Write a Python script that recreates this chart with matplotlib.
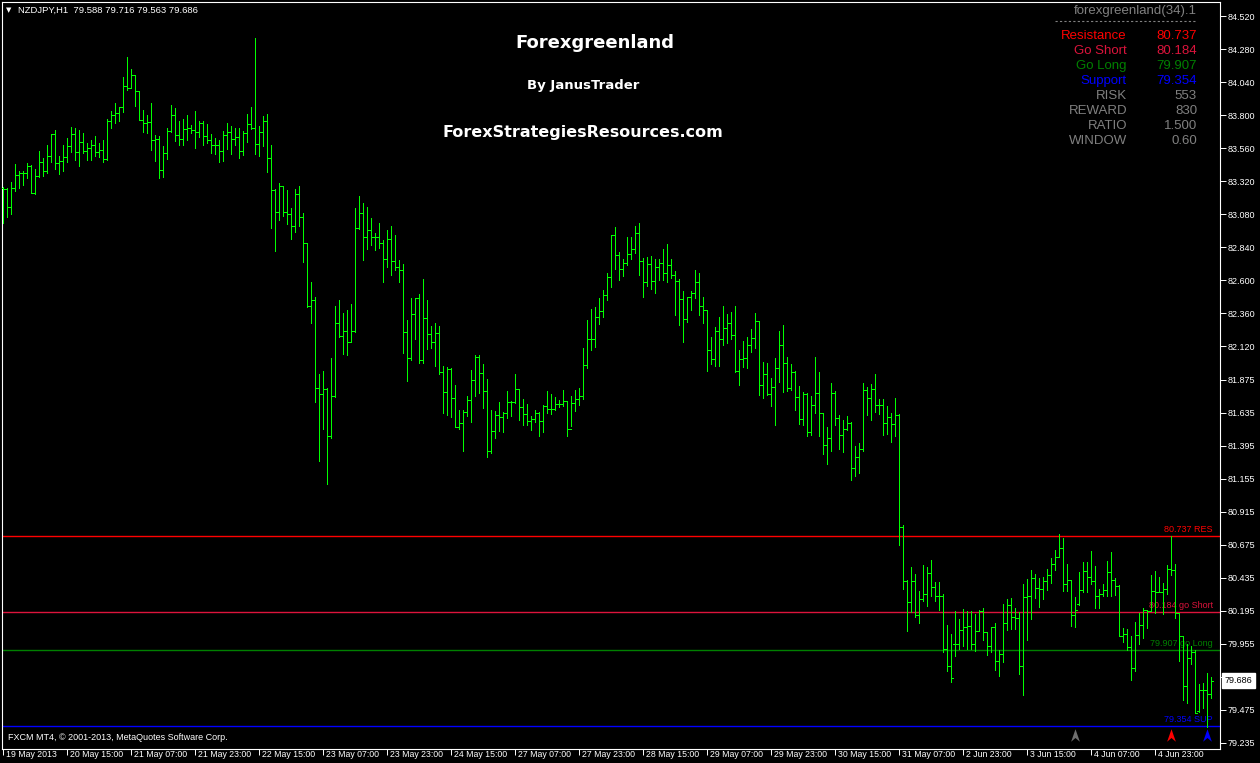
import numpy as np
import matplotlib.pyplot as plt
from matplotlib.path import Path
from matplotlib.transforms import ScaledTranslation

# NZDJPY H1 bars, oldest first
highs = [
    83.278, 83.269, 83.312, 83.443, 83.392, 83.392, 83.450, 83.436, 83.407, 83.538,
    83.487, 83.581, 83.659, 83.691, 83.501, 83.581, 83.632, 83.710, 83.705, 83.688,
    83.666, 83.596, 83.618, 83.644, 83.596, 83.618, 83.768, 83.829, 83.887, 83.858,
    84.076, 84.221, 84.132, 84.093, 83.972, 83.834, 83.797, 83.884, 83.654, 83.644,
    83.574, 83.703, 83.870, 83.848, 83.754, 83.768, 83.797, 83.724, 83.829, 83.756,
    83.756,
    83.734, 83.662, 83.633, 83.618, 83.684, 83.742, 83.720, 83.705, 83.705, 83.684,
    83.810, 83.858, 84.360, 83.720, 83.793, 83.807, 83.582, 83.262, 83.305, 83.284,
    83.254, 83.124, 83.262, 83.284, 83.087, 82.867, 82.585, 82.476, 81.916, 81.938,
    81.812, 82.033, 82.411, 82.455, 82.360, 82.382, 82.425, 83.124, 83.211, 83.160,
    83.131, 83.051, 82.939, 83.015, 82.888, 82.964, 82.993, 82.927, 82.748, 82.719,
    82.309, 82.469, 82.469, 82.498, 82.608, 82.455, 82.266, 82.288, 82.266, 81.975,
    81.968, 81.960, 81.837, 81.655, 81.655, 81.757, 81.946, 82.055, 82.055, 81.989,
    81.880, 81.655, 81.648, 81.713, 81.640, 81.793, 81.720, 81.917, 81.805, 81.735,
    81.696, 81.614, 81.655, 81.640, 81.691, 81.793, 81.771, 81.749, 81.728, 81.800,
    81.720, 81.757, 81.800, 81.815, 82.106, 82.309, 82.389, 82.404, 82.469, 82.528,
    82.651, 82.927, 82.985, 82.804, 82.753, 82.913, 82.913, 82.993, 83.014, 82.758,
    82.767, 82.774, 82.750, 82.750, 82.825, 82.862, 82.750, 82.665, 82.605, 82.520,
    82.479, 82.522, 82.673, 82.651, 82.474, 82.382, 82.188, 82.261, 82.331, 82.411,
    82.353, 82.367, 82.411, 82.091, 82.156, 82.188, 82.244, 82.360, 82.302, 82.004,
    81.996, 81.890, 82.033, 82.229, 82.273, 82.042, 81.989, 81.936, 81.829, 81.788,
    81.778, 81.756, 82.042, 81.931, 81.633, 81.531, 81.851, 81.793, 81.618, 81.582,
    81.611, 81.567, 81.393, 81.414, 81.851, 81.822, 81.843, 81.916, 81.734, 81.734,
    81.683, 81.633, 81.742, 81.625, 80.818, 80.421, 80.513, 80.462, 80.338, 80.527,
    80.513, 80.564, 80.404, 80.404, 80.314, 80.091, 80.023, 80.193, 80.135, 80.207,
    80.193, 80.193, 80.171, 80.200, 80.215, 80.038, 80.076, 80.105, 79.909, 80.244,
    80.280, 80.288, 80.213, 80.184, 80.390, 80.426, 80.491, 80.462, 80.433, 80.440,
    80.499, 80.579, 80.637, 80.753, 80.724, 80.535, 80.419, 80.295, 80.477, 80.550,
    80.550, 80.630, 80.520, 80.353, 80.390, 80.557, 80.622, 80.433, 80.382, 80.067,
    80.062, 80.009, 80.113, 80.179, 80.215, 80.200, 80.455, 80.484, 80.440, 80.397,
    80.528, 80.739, 80.535, 80.176, 80.009, 79.953, 79.939, 79.907, 79.665, 79.672,
    79.740, 79.716,
]

lows = [
    83.017, 83.060, 83.082, 83.249, 83.271, 83.293, 83.339, 83.230, 83.223, 83.346,
    83.358, 83.375, 83.458, 83.409, 83.373, 83.390, 83.460, 83.531, 83.472, 83.431,
    83.521, 83.472, 83.472, 83.499, 83.494, 83.458, 83.470, 83.707, 83.739, 83.756,
    83.819, 83.984, 83.993, 83.867, 83.761, 83.678, 83.669, 83.548, 83.468, 83.339,
    83.346, 83.480, 83.674, 83.611, 83.584, 83.581, 83.618, 83.666, 83.562, 83.642,
    83.581,
    83.594, 83.526, 83.519, 83.461, 83.468, 83.555, 83.519, 83.584, 83.490, 83.511,
    83.606, 83.700, 83.519, 83.504, 83.577, 83.388, 82.981, 82.813, 83.039, 83.068,
    83.010, 82.901, 82.951, 82.995, 82.733, 82.401, 82.290, 81.715, 81.286, 81.519,
    81.119, 81.449, 81.747, 82.186, 82.064, 82.057, 82.147, 82.219, 82.968, 82.748,
    82.828, 82.857, 82.821, 82.835, 82.588, 82.697, 82.639, 82.675, 82.588, 82.072,
    81.868, 82.021, 82.174, 81.999, 81.999, 82.101, 82.108, 81.977, 81.919, 81.635,
    81.621, 81.606, 81.534, 81.519, 81.359, 81.614, 81.570, 81.759, 81.781, 81.672,
    81.316, 81.345, 81.454, 81.505, 81.497, 81.599, 81.614, 81.703, 81.585, 81.548,
    81.543, 81.512, 81.570, 81.468, 81.497, 81.635, 81.628, 81.657, 81.679, 81.686,
    81.468, 81.541, 81.650, 81.694, 81.737, 81.963, 82.094, 82.115, 82.283, 82.334,
    82.457, 82.551, 82.682, 82.602, 82.631, 82.707, 82.755, 82.799, 82.639, 82.479,
    82.559, 82.535, 82.508, 82.600, 82.600, 82.588, 82.612, 82.348, 82.275, 82.152,
    82.297, 82.379, 82.471, 82.348, 82.290, 81.941, 81.992, 81.977, 81.977, 82.130,
    82.144, 82.171, 81.933, 81.839, 81.970, 81.962, 82.079, 82.108, 81.766, 81.744,
    81.766, 81.686, 81.548, 81.861, 81.788, 81.795, 81.800, 81.657, 81.555, 81.546,
    81.468, 81.475, 81.630, 81.468, 81.337, 81.264, 81.359, 81.548, 81.373, 81.351,
    81.511, 81.148, 81.177, 81.199, 81.359, 81.620, 81.584, 81.637, 81.628, 81.475,
    81.482, 81.424, 81.468, 80.675, 80.355, 80.050, 80.188, 80.147, 80.108, 80.268,
    80.231, 80.299, 80.263, 80.198, 79.897, 79.759, 79.679, 79.868, 79.919, 79.936,
    79.914, 79.919, 79.904, 80.045, 79.982, 79.875, 79.897, 79.766, 79.723, 79.819,
    80.053, 80.060, 80.060, 79.738, 79.585, 79.985, 80.133, 80.285, 80.220, 80.278,
    80.346, 80.397, 80.489, 80.586, 80.341, 80.336, 80.082, 80.079, 80.239, 80.334,
    80.334, 80.387, 80.215, 80.215, 80.302, 80.300, 80.300, 80.310, 80.009, 79.970,
    79.907, 79.694, 79.759, 79.951, 79.997, 80.067, 80.191, 80.179, 80.331, 80.171,
    80.317, 80.453, 80.145, 79.830, 79.548, 79.522, 79.805, 79.451, 79.461, 79.490,
    79.347, 79.563,
]

opens = [
    83.266,
    83.261, 83.128, 83.266, 83.361, 83.375, 83.375, 83.429, 83.230, 83.358, 83.455,
    83.395, 83.499, 83.659, 83.448, 83.463, 83.497, 83.572, 83.659, 83.528, 83.601,
    83.535, 83.560, 83.579, 83.528, 83.545, 83.477, 83.756, 83.797, 83.814, 83.858,
    84.008, 83.993, 84.090, 83.972, 83.761, 83.741, 83.746, 83.618, 83.623, 83.400,
    83.521, 83.683, 83.802, 83.652, 83.625, 83.695, 83.707, 83.691, 83.676, 83.741,
    83.649, 83.616, 83.579, 83.579, 83.536, 83.652, 83.674, 83.628, 83.638, 83.536,
    83.667, 83.732, 83.703, 83.587, 83.674, 83.754, 83.485, 83.252, 83.092, 83.281,
    83.092, 83.078, 82.990, 83.223, 83.058, 82.867, 82.408, 82.452, 81.812, 81.769,
    81.807, 81.463, 81.754, 82.285, 82.190, 82.227, 82.147, 82.227, 82.976, 83.085,
    82.910, 82.961, 82.910, 82.910, 82.867, 82.750, 82.896, 82.736, 82.697, 82.673,
    82.219, 82.033, 82.355, 82.467, 82.016, 82.321, 82.205, 82.147, 82.212, 81.934,
    81.783, 81.951, 81.740, 81.534, 81.558, 81.638, 81.725, 81.871, 82.038, 81.922,
    81.791, 81.354, 81.500, 81.616, 81.604, 81.633, 81.711, 81.711, 81.805, 81.679,
    81.623, 81.572, 81.587, 81.631, 81.572, 81.682, 81.665, 81.662, 81.696, 81.696,
    81.718, 81.514, 81.703, 81.732, 81.754, 81.980, 82.169, 82.169, 82.329, 82.375,
    82.489, 82.619, 82.927, 82.779, 82.678, 82.721, 82.787, 82.823, 82.942, 82.736,
    82.585, 82.714, 82.590, 82.692, 82.721, 82.648, 82.707, 82.634, 82.590, 82.459,
    82.314, 82.474, 82.503, 82.583, 82.408, 82.382, 82.088, 82.023, 82.227, 82.173,
    82.248, 82.285, 82.198, 81.936, 82.023, 82.030, 82.125, 82.178, 82.302, 81.834,
    81.916, 81.773, 81.819, 81.958, 82.125, 81.994, 81.812, 81.928, 81.747, 81.587,
    81.773, 81.494, 81.691, 81.780, 81.633, 81.397, 81.448, 81.778, 81.594, 81.470,
    81.514, 81.560, 81.230, 81.310, 81.368, 81.800, 81.739, 81.805, 81.691, 81.691,
    81.557, 81.601, 81.550, 81.616, 80.804, 80.413, 80.256, 80.411, 80.161, 80.278,
    80.314, 80.467, 80.365, 80.299, 80.299, 79.914, 79.790, 79.950, 79.950, 80.052,
    80.074, 80.081, 79.950, 80.045, 80.193, 80.038, 79.941, 80.074, 79.827, 79.882,
    80.103, 80.237, 80.147, 80.140, 79.793, 80.295, 80.302, 80.433, 80.358, 80.353,
    80.411, 80.455, 80.535, 80.586, 80.651, 80.390, 80.419, 80.164, 80.240, 80.344,
    80.484, 80.440, 80.409, 80.300, 80.317, 80.346, 80.477, 80.419, 80.375, 80.009,
    80.024, 79.931, 79.779, 80.016, 80.089, 80.198, 80.195, 80.336, 80.331, 80.331,
    80.351, 80.496, 80.489, 80.176, 80.009, 79.650, 79.851, 79.895, 79.462, 79.616,
    79.616, 79.588,
]

closes = [
    83.261, 83.128, 83.266, 83.361, 83.375, 83.375, 83.429, 83.230, 83.358, 83.455,
    83.395, 83.499, 83.659, 83.448, 83.463, 83.497, 83.572, 83.659, 83.528, 83.601,
    83.535, 83.560, 83.579, 83.528, 83.545, 83.477, 83.756, 83.797, 83.814, 83.858,
    84.008, 83.993, 84.090, 83.972, 83.761, 83.741, 83.746, 83.618, 83.623, 83.400,
    83.521, 83.683, 83.802, 83.652, 83.625, 83.695, 83.707, 83.691, 83.676, 83.741,
    83.649,
    83.616, 83.579, 83.579, 83.536, 83.652, 83.674, 83.628, 83.638, 83.536, 83.667,
    83.732, 83.703, 83.587, 83.674, 83.754, 83.485, 83.252, 83.092, 83.281, 83.092,
    83.078, 82.990, 83.223, 83.058, 82.867, 82.408, 82.452, 81.812, 81.769, 81.807,
    81.463, 81.754, 82.285, 82.190, 82.227, 82.147, 82.227, 82.976, 83.085, 82.910,
    82.961, 82.910, 82.910, 82.867, 82.750, 82.896, 82.736, 82.697, 82.673, 82.219,
    82.033, 82.355, 82.467, 82.016, 82.321, 82.205, 82.147, 82.212, 81.934, 81.783,
    81.951, 81.740, 81.534, 81.558, 81.638, 81.725, 81.871, 82.038, 81.922, 81.791,
    81.354, 81.500, 81.616, 81.604, 81.633, 81.711, 81.711, 81.805, 81.679, 81.623,
    81.572, 81.587, 81.631, 81.572, 81.682, 81.665, 81.662, 81.696, 81.696, 81.718,
    81.514, 81.703, 81.732, 81.754, 81.980, 82.169, 82.169, 82.329, 82.375, 82.489,
    82.619, 82.927, 82.779, 82.678, 82.721, 82.787, 82.823, 82.942, 82.736, 82.585,
    82.714, 82.590, 82.692, 82.721, 82.648, 82.707, 82.634, 82.590, 82.459, 82.314,
    82.474, 82.503, 82.583, 82.408, 82.382, 82.088, 82.023, 82.227, 82.173, 82.248,
    82.285, 82.198, 81.936, 82.023, 82.030, 82.125, 82.178, 82.302, 81.834, 81.916,
    81.773, 81.819, 81.958, 82.125, 81.994, 81.812, 81.928, 81.747, 81.587, 81.773,
    81.494, 81.691, 81.780, 81.633, 81.397, 81.448, 81.778, 81.594, 81.470, 81.514,
    81.560, 81.230, 81.310, 81.368, 81.800, 81.739, 81.805, 81.691, 81.691, 81.557,
    81.601, 81.550, 81.616, 80.804, 80.413, 80.256, 80.411, 80.161, 80.278, 80.314,
    80.467, 80.365, 80.299, 80.299, 79.914, 79.790, 79.703, 79.950, 80.052, 80.074,
    80.081, 79.950, 80.045, 80.193, 80.038, 79.941, 80.074, 79.827, 79.882, 80.103,
    80.237, 80.147, 80.140, 79.793, 80.295, 80.302, 80.433, 80.358, 80.353, 80.411,
    80.455, 80.535, 80.586, 80.651, 80.390, 80.419, 80.164, 80.201, 80.344, 80.484,
    80.440, 80.409, 80.300, 80.317, 80.346, 80.477, 80.419, 80.375, 80.009, 80.024,
    79.931, 79.779, 80.016, 80.089, 80.198, 80.195, 80.336, 80.331, 80.331, 80.351,
    80.496, 80.489, 80.176, 80.009, 79.650, 79.851, 79.895, 79.454, 79.616, 79.616,
    79.592, 79.686,
]

# x axis labels every 16 bars
date_labels = ['19 May 2013', '20 May 15:00', '21 May 07:00', '21 May 23:00', '22 May 15:00',
               '23 May 07:00', '23 May 23:00', '24 May 15:00', '27 May 07:00', '27 May 23:00',
               '28 May 15:00', '29 May 07:00', '29 May 23:00', '30 May 15:00', '31 May 07:00',
               '2 Jun 23:00', '3 Jun 15:00', '4 Jun 07:00', '4 Jun 23:00']
price_ticks = [84.520, 84.280, 84.040, 83.800, 83.560, 83.320, 83.080, 82.840, 82.600,
               82.360, 82.120, 81.875, 81.635, 81.395, 81.155, 80.915, 80.675, 80.435,
               80.195, 79.955, 79.715, 79.475, 79.235]

# indicator levels
level_names = ['RES', 'go Short', 'go Long', 'SUP']
level_values = [80.737, 80.184, 79.907, 79.354]
level_colors = ['#ff0000', '#dc143c', '#008000', '#0000ff']

panel_labels = ['Resistance', 'Go Short', 'Go Long', 'Support', 'RISK', 'REWARD', 'RATIO', 'WINDOW']
panel_values = ['80.737', '80.184', '79.907', '79.354', '553', '830', '1.500', '0.60']
panel_colors = ['#ff0000', '#dc143c', '#008000', '#0000ff', '#808080', '#808080', '#808080', '#808080']

arrow_bars = [268, 292, 301]
arrow_price = 79.29
arrow_colors = ['#6e6e6e', '#ff0000', '#0000ff']

last_price = 79.686

W, H = 1260, 763
plt.rcParams['font.family'] = ['Liberation Sans', 'DejaVu Sans']

fig = plt.figure(figsize=(W / 100, H / 100), dpi=100, facecolor='black')
ax = fig.add_axes([2 / W, 1 - 749 / H, 1218 / W, 747 / H], facecolor='black')


def px(x, y):
    return x / W, 1 - y / H


xs = np.arange(len(highs))
bar_color = '#00ff00'
ax.vlines(xs, lows, highs, colors=bar_color, linewidth=0.72, antialiased=False, zorder=3)
ax.hlines(opens, xs - 0.5, xs, colors=bar_color, linewidth=0.72, antialiased=False, zorder=3)
ax.hlines(closes, xs, xs + 0.5, colors=bar_color, linewidth=0.72, antialiased=False, zorder=3)

ax.set_xlim(-0.325, 304.2)
ax.set_ylim(79.189, 84.622)

# support / resistance lines
for name, v, c in zip(level_names, level_values, level_colors):
    ax.axhline(v, color=c, linewidth=1.0, zorder=1)
    ax.annotate(f'{v:.3f} {name}', xy=(302.4, v), xytext=(0, 1.5), textcoords='offset points',
                ha='right', va='bottom', color=c, fontsize=6.5, zorder=2)

# arrows at the bottom
arrow_marker = Path([(0, 1), (0.7, -1), (0, -0.4), (-0.7, -1), (0, 1)],
                    [Path.MOVETO, Path.LINETO, Path.LINETO, Path.LINETO, Path.CLOSEPOLY])
for b, c in zip(arrow_bars, arrow_colors):
    ax.plot([b], [arrow_price], marker=arrow_marker, markersize=9, color=c,
            markeredgewidth=0, linestyle='none', zorder=4)

# axes styling
for s in ax.spines.values():
    s.set_color('white')
    s.set_linewidth(0.8)
ax.yaxis.tick_right()
ax.set_yticks(price_ticks)
ax.set_yticklabels([f'{v:.3f}' for v in price_ticks])
ax.tick_params(axis='y', colors='white', length=4, width=0.7, pad=1.5, labelsize=6.5)
ax.set_xticks(np.arange(len(date_labels)) * 16)
ax.set_xticklabels(date_labels)
ax.tick_params(axis='x', colors='white', length=4, width=0.7, pad=-3, labelsize=6.3)
shift = ScaledTranslation(2.5 / 100, 0, fig.dpi_scale_trans)
for lbl in ax.get_xticklabels():
    lbl.set_ha('left')
    lbl.set_transform(lbl.get_transform() + shift)

# current price box (covers the 79.715 tick label as on the terminal)
ax.text(1.0035, last_price, f'{last_price:.3f}', transform=ax.get_yaxis_transform(),
        ha='left', va='center', color='black', fontsize=6.5, zorder=10,
        bbox=dict(boxstyle='square,pad=0.3', facecolor='white', edgecolor='white'))

# header
fig.text(*px(6, 10), '\u25bc', color='white', fontsize=5, va='center', family='DejaVu Sans')
fig.text(*px(18, 10), 'NZDJPY,H1  79.588 79.716 79.563 79.686', color='white',
         fontsize=6.8, va='center')
fig.text(*px(8, 737), 'FXCM MT4, \u00a9 2001-2013, MetaQuotes Software Corp.', color='white',
         fontsize=6.5, va='center')

# title block
fig.text(*px(595, 43), 'Forexgreenland', color='white', fontsize=13, fontweight='bold',
         ha='center', va='center', family='DejaVu Sans')
fig.text(*px(583, 86), 'By JanusTrader', color='white', fontsize=9.5, fontweight='bold',
         ha='center', va='center', family='DejaVu Sans')
fig.text(*px(583, 132), 'ForexStrategiesResources.com', color='white', fontsize=11.5,
         fontweight='bold', ha='center', va='center', family='DejaVu Sans')

# indicator panel
fig.text(*px(1197, 11), 'forexgreenland(34).1', color='#808080', fontsize=9.5,
         ha='right', va='center')
fig.add_artist(plt.Line2D([1055 / W, 1197 / W], [1 - 21 / H, 1 - 21 / H], color='#808080',
                          linewidth=0.8, linestyle=(0, (2, 2))))
for i, (lab, val, c) in enumerate(zip(panel_labels, panel_values, panel_colors)):
    y = 36 + 15 * i
    fig.text(*px(1127, y), lab, color=c, fontsize=9.5, ha='right', va='center')
    fig.text(*px(1197, y), val, color=c, fontsize=9.5, ha='right', va='center')

fig.savefig('out.png', dpi=100, facecolor='black')
